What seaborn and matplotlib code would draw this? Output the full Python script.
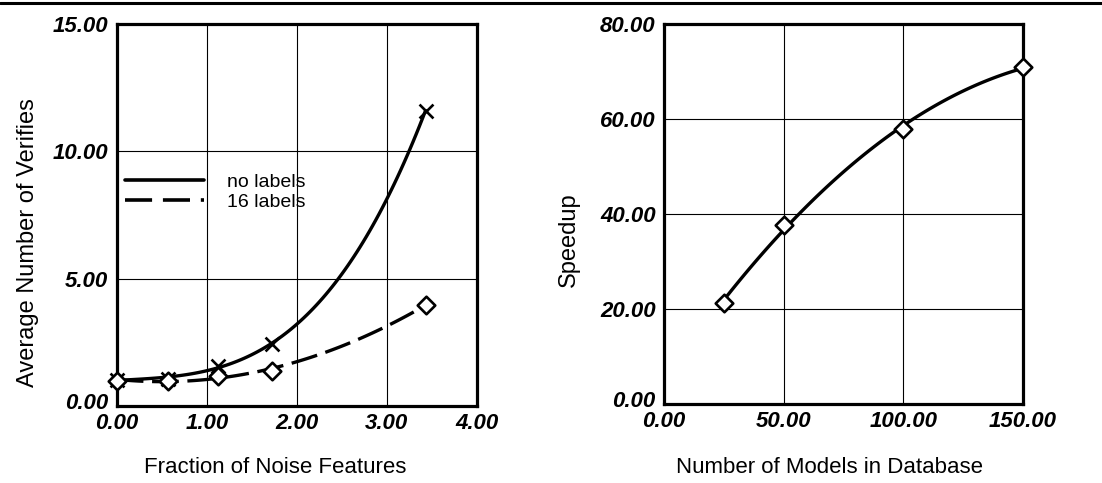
import matplotlib
matplotlib.use("Agg")
import matplotlib.pyplot as plt
import matplotlib.transforms as mtransforms
import seaborn as sns
from matplotlib.lines import Line2D
from matplotlib.ticker import FormatStrFormatter

# left panel: noise features
noise_frac = [0.0, 0.57, 1.12, 1.72, 3.43]
verifies_no_labels = [1.02, 1.08, 1.57, 2.43, 11.6]
verifies_16_labels = [1.0, 1.0, 1.18, 1.37, 3.97]
noise_ticks = [0, 1, 2, 3, 4]
verify_ticks = [0, 5, 10, 15]

# right panel: database size
n_models = [25, 50, 100, 150]
speedup = [21.3, 37.7, 57.9, 70.9]
model_ticks = [0, 50, 100, 150]
speedup_ticks = [0, 20, 40, 60, 80]

sns.set_style("white")
plt.rcParams["font.family"] = ["Liberation Sans", "DejaVu Sans"]

fig = plt.figure(figsize=(11.02, 4.83), dpi=100)
ax1 = fig.add_axes([0.106, 0.1594, 0.3267, 0.791])
ax2 = fig.add_axes([0.6025, 0.1636, 0.3258, 0.7867])

x_kws = {"s": 100, "linewidths": 1.9, "alpha": 1, "zorder": 3, "clip_on": False}
d_kws = {"s": 80, "facecolors": "white", "edgecolors": "black", "linewidths": 1.9,
         "alpha": 1, "zorder": 4, "clip_on": False}

sns.regplot(x=noise_frac, y=verifies_no_labels, order=3, ci=None, ax=ax1,
            marker="x", color="black", scatter_kws=x_kws,
            line_kws={"lw": 2.4, "zorder": 2})
sns.regplot(x=noise_frac, y=verifies_16_labels, order=2, ci=None, ax=ax1,
            marker="D", color="black", scatter_kws=d_kws,
            line_kws={"lw": 2.4, "dashes": (8, 2.6), "zorder": 2})

sns.regplot(x=n_models, y=speedup, order=2, ci=None, ax=ax2,
            marker="D", color="black", scatter_kws=d_kws,
            line_kws={"lw": 2.4, "zorder": 2})

handles = [Line2D([], [], color="black", lw=2.6),
           Line2D([], [], color="black", lw=2.6, dashes=(7.5, 3))]
ax1.legend(handles, ["no labels", "16 labels"], loc="center left",
           bbox_to_anchor=(0.022, 0.56), frameon=False, fontsize=14,
           handlelength=4.1, handletextpad=1.15, labelspacing=0.1,
           borderpad=0, borderaxespad=0, labelcolor="black")

setup = [
    (ax1, noise_ticks, verify_ticks, "Fraction of Noise Features", "Average Number of Verifies",
     (0.439, -0.134), (-0.215, 0.429)),
    (ax2, model_ticks, speedup_ticks, "Number of Models in Database", "Speedup",
     (0.46, -0.139), (-0.234, 0.432)),
]
lift = mtransforms.ScaledTranslation(0, 5 / 100, fig.dpi_scale_trans)
for ax, xt, yt, xl, yl, xpos, ypos in setup:
    ax.set_xlim(xt[0], xt[-1])
    ax.set_ylim(yt[0], yt[-1])
    ax.set_xticks(xt)
    ax.set_yticks(yt)
    ax.xaxis.set_major_formatter(FormatStrFormatter("%.2f"))
    ax.yaxis.set_major_formatter(FormatStrFormatter("%.2f"))
    ax.grid(True, color="black", lw=0.8)
    ax.set_axisbelow(True)
    for s in ax.spines.values():
        s.set_color("black")
        s.set_linewidth(2.3)
    ax.tick_params(length=0, labelsize=16, colors="black")
    ax.tick_params(axis="x", pad=5)
    ax.tick_params(axis="y", pad=6)
    for lab in ax.get_xticklabels() + ax.get_yticklabels():
        lab.set_fontweight("bold")
        lab.set_fontstyle("italic")
    # the bottom y label sits a little higher, clear of the x labels
    zero = ax.get_yticklabels()[0]
    zero.set_transform(zero.get_transform() + lift)
    ax.set_xlabel(xl, fontsize=16, color="black")
    ax.set_ylabel(yl, fontsize=17, color="black")
    ax.xaxis.set_label_coords(*xpos)
    ax.yaxis.set_label_coords(*ypos)

fig.add_artist(Line2D([0, 1], [0.994, 0.994], color="black", lw=2.2))

fig.savefig("out.png", dpi=100, facecolor="white")
